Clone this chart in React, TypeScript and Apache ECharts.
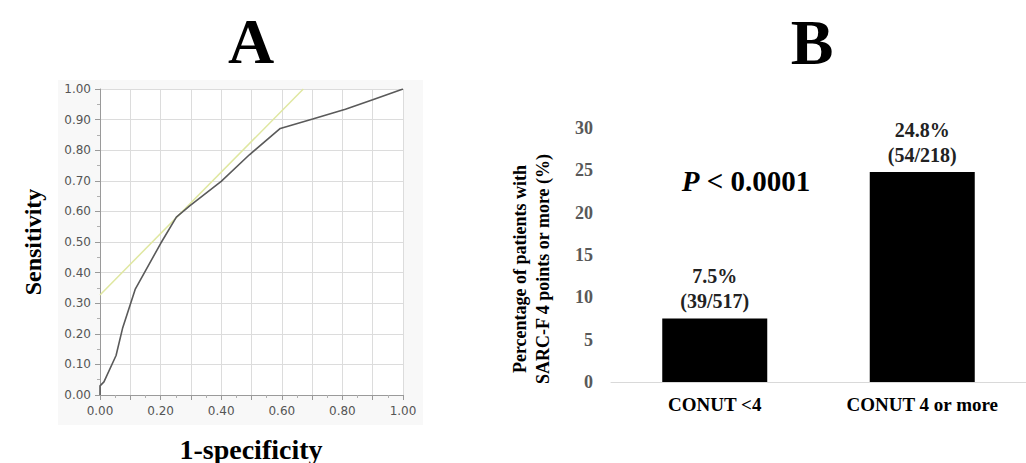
import React, { useEffect, useRef } from "react";
import * as echarts from "echarts";

// Panel A: ROC curve
const rocX = [0, 0, 0.013, 0.053, 0.075, 0.116, 0.2, 0.252, 0.296, 0.4, 0.493, 0.595, 0.702, 0.81, 0.9, 1.0];
const rocY = [0, 0.03, 0.043, 0.129, 0.22, 0.345, 0.495, 0.581, 0.618, 0.698, 0.785, 0.871, 0.902, 0.934, 0.965, 1.0];
const tangentX = [0, 0.671];
const tangentY = [0.327, 1.0];

// Panel B: bar chart
const categories = ["CONUT <4", "CONUT 4 or more"];
const percentages = [7.5, 24.8];
const percentLabels = ["7.5%", "24.8%"];
const countLabels = ["(39/517)", "(54/218)"];

const serif = "'Liberation Serif', 'Times New Roman', serif";
const sans = "'DejaVu Sans', Tahoma, sans-serif";

export default function App() {
  const ref = useRef<HTMLDivElement>(null);
  useEffect(() => {
    if (!ref.current) return;
    const chart = echarts.init(ref.current, null, { renderer: "svg" });
    const option: any = {
      animation: false,
      backgroundColor: "#fff",
      grid: [
        { left: 100, top: 89, width: 303, height: 306, show: true, backgroundColor: "#fff", borderWidth: 0 },
        { left: 611, top: 128, width: 426, height: 254 },
      ],
      xAxis: [
        {
          type: "value",
          gridIndex: 0,
          min: 0,
          max: 1,
          interval: 0.1,
          axisLine: { show: true, lineStyle: { color: "#9a9a9a", width: 1 } },
          axisTick: { show: true, length: 5, lineStyle: { color: "#9a9a9a" } },
          minorTick: { show: true, splitNumber: 2, length: 3, lineStyle: { color: "#b0b0b0" } },
          splitLine: { show: true, lineStyle: { color: "#dcdcdc", width: 1 } },
          axisLabel: {
            margin: 10,
            color: "#555",
            fontFamily: sans,
            fontSize: 12,
            formatter: (v: number) => (Math.round(v * 10) % 2 === 0 ? v.toFixed(2) : ""),
          },
        },
        {
          type: "category",
          gridIndex: 1,
          data: categories,
          axisLine: { show: true, lineStyle: { color: "#d9d9d9", width: 1 } },
          axisTick: { show: false },
          axisLabel: {
            margin: 13,
            color: "#000",
            fontFamily: serif,
            fontWeight: "bold",
            fontSize: 19,
          },
        },
      ],
      yAxis: [
        {
          type: "value",
          gridIndex: 0,
          min: 0,
          max: 1,
          interval: 0.1,
          axisLine: { show: true, lineStyle: { color: "#9a9a9a", width: 1 } },
          axisTick: { show: true, length: 5, lineStyle: { color: "#9a9a9a" } },
          minorTick: { show: true, splitNumber: 2, length: 3, lineStyle: { color: "#b0b0b0" } },
          splitLine: { show: true, lineStyle: { color: "#dcdcdc", width: 1 } },
          axisLabel: {
            margin: 9,
            color: "#555",
            fontFamily: sans,
            fontSize: 12,
            formatter: (v: number) => v.toFixed(2),
          },
        },
        {
          type: "value",
          gridIndex: 1,
          min: 0,
          max: 30,
          interval: 5,
          axisLine: { show: false },
          axisTick: { show: false },
          splitLine: { show: false },
          axisLabel: {
            margin: 18,
            color: "#595959",
            fontFamily: serif,
            fontWeight: "bold",
            fontSize: 18,
          },
        },
      ],
      series: [
        {
          type: "line",
          xAxisIndex: 0,
          yAxisIndex: 0,
          data: tangentX.map((x, i) => [x, tangentY[i]]),
          showSymbol: false,
          lineStyle: { color: "#dfe7a0", width: 1.5 },
          z: 3,
        },
        {
          type: "line",
          xAxisIndex: 0,
          yAxisIndex: 0,
          data: rocX.map((x, i) => [x, rocY[i]]),
          showSymbol: false,
          lineStyle: { color: "#5a5a5a", width: 1.6 },
          z: 4,
        },
        {
          type: "bar",
          xAxisIndex: 1,
          yAxisIndex: 1,
          data: percentages,
          barWidth: 105,
          itemStyle: { color: "#000" },
          label: {
            show: true,
            position: "top",
            distance: 5,
            formatter: (p: any) => `${percentLabels[p.dataIndex]}\n${countLabels[p.dataIndex]}`,
            color: "#222",
            fontFamily: serif,
            fontWeight: "bold",
            fontSize: 20,
            lineHeight: 25,
          },
        },
      ],
      graphic: [
        {
          type: "rect",
          shape: { x: 58, y: 80, width: 365, height: 345 },
          style: { fill: "#f8f8f8" },
          z: -10,
          silent: true,
        },
        {
          type: "text",
          x: 251,
          y: 41,
          style: { text: "A", font: `bold 64px ${serif}`, fill: "#000", align: "center", verticalAlign: "middle" },
        },
        {
          type: "text",
          x: 812,
          y: 42,
          style: { text: "B", font: `bold 64px ${serif}`, fill: "#000", align: "center", verticalAlign: "middle" },
        },
        {
          type: "text",
          x: 33,
          y: 242,
          rotation: Math.PI / 2,
          style: { text: "Sensitivity", font: `bold 24px ${serif}`, fill: "#000", align: "center", verticalAlign: "middle" },
        },
        {
          type: "text",
          x: 251,
          y: 449,
          style: { text: "1-specificity", font: `bold 28px ${serif}`, fill: "#000", align: "center", verticalAlign: "middle" },
        },
        {
          type: "text",
          x: 531,
          y: 269,
          rotation: Math.PI / 2,
          style: {
            text: "Percentage of patients with\nSARC-F 4 points or more (%)",
            font: `bold 18px ${serif}`,
            lineHeight: 23,
            fill: "#000",
            align: "center",
            verticalAlign: "middle",
          },
        },
        {
          type: "text",
          x: 746,
          y: 181,
          style: {
            text: "{i|P}{n| < 0.0001}",
            align: "center",
            verticalAlign: "middle",
            rich: {
              i: { font: `italic bold 29px ${serif}`, fill: "#000" },
              n: { font: `bold 29px ${serif}`, fill: "#000" },
            },
          },
        },
      ],
    };
    chart.setOption(option);
    return () => chart.dispose();
  }, []);
  return (
    <div
      ref={ref}
      style={{ position: "fixed", left: 0, top: 0, width: 1026, height: 463 }}
    />
  );
}
